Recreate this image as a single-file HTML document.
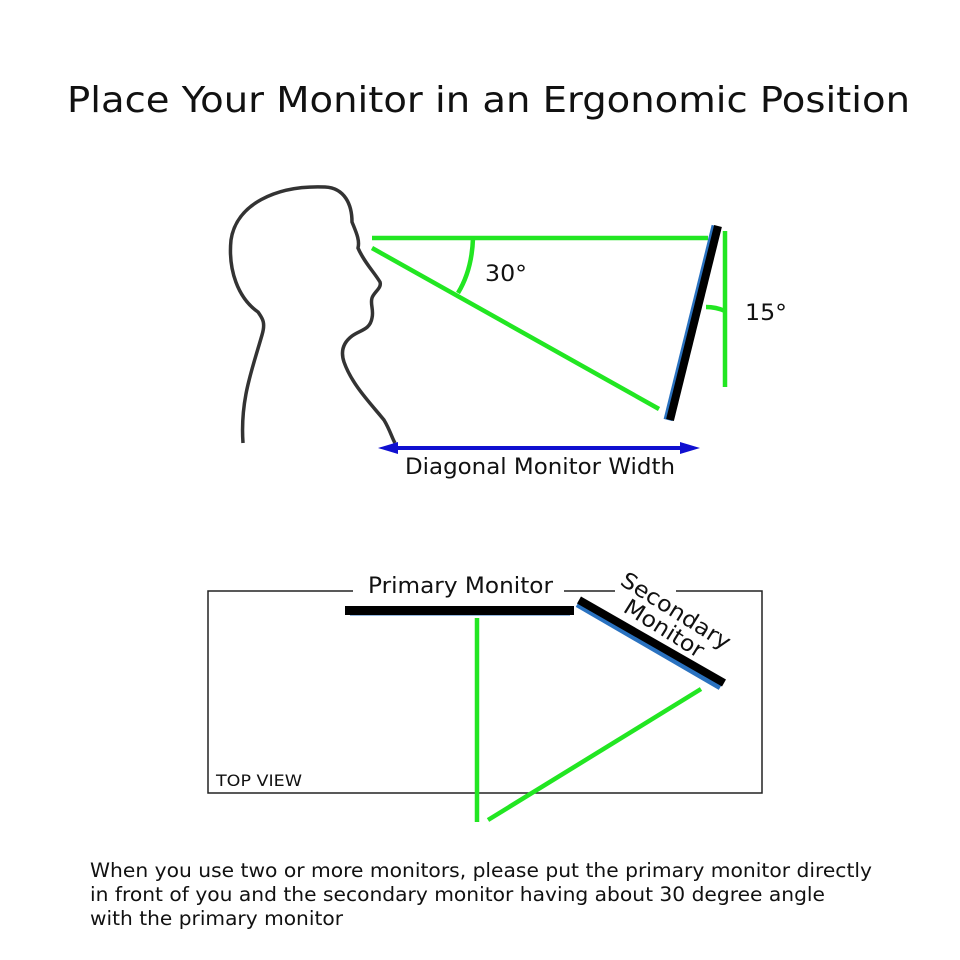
<!DOCTYPE html>
<html><head><meta charset="utf-8"><style>
html,body{margin:0;padding:0;background:#fff}
svg{display:block}
text{font-family:"DejaVu Sans","Liberation Sans",sans-serif;fill:#111}
</style></head><body>
<svg width="960" height="960" viewBox="0 0 960 960" xmlns="http://www.w3.org/2000/svg">
<text x="67" y="112" font-size="36" textLength="843" lengthAdjust="spacingAndGlyphs">Place Your Monitor in an Ergonomic Position</text>
<!-- head -->
<path d="M243,443 C240,400 252,370 262,335 C266,322 262,318 258,312 C238,298 228,270 231,240 C236,205 275,185 325,187 C345,188 352,205 352,222 C356,232 360,240 358,248 C364,262 374,272 380,282 C382,288 374,292 372,298 C370,304 374,310 372,318 C370,330 360,330 352,336 C344,342 340,350 344,362 C352,385 372,405 384,420 C390,430 392,438 395,443" fill="none" stroke="#333" stroke-width="3.5"/>
<g stroke="#22e622" stroke-width="4.5" fill="none">
<line x1="372" y1="238" x2="708" y2="238"/>
<line x1="372" y1="248" x2="659" y2="409"/>
<path d="M473,238 Q472,270 458,293"/>
<line x1="725" y1="231" x2="725" y2="387"/>
<path d="M706,307 Q716,307 725,311"/>
</g>
<line x1="668" y1="420" x2="716" y2="226" stroke="#2a72c0" stroke-width="9"/>
<line x1="670" y1="420" x2="718" y2="226" stroke="#000" stroke-width="8"/>
<text x="485" y="281" font-size="22" textLength="42" lengthAdjust="spacingAndGlyphs">30°</text>
<text x="745" y="320" font-size="22" textLength="42" lengthAdjust="spacingAndGlyphs">15°</text>
<line x1="395" y1="448" x2="685" y2="448" stroke="#1010d0" stroke-width="4"/>
<polygon points="378,448 398,442 398,454" fill="#1010d0"/>
<polygon points="700,448 680,442 680,454" fill="#1010d0"/>
<text x="405" y="474" font-size="22" textLength="270" lengthAdjust="spacingAndGlyphs">Diagonal Monitor Width</text>
<g stroke="#222" stroke-width="1.5" fill="none">
<polyline points="353,591 208,591 208,793 762,793 762,591 676,591"/>
<line x1="564" y1="591" x2="615" y2="591"/>
</g>
<text x="368" y="593" font-size="22" textLength="185" lengthAdjust="spacingAndGlyphs">Primary Monitor</text>
<line x1="350" y1="614" x2="570" y2="614" stroke="#2a72c0" stroke-width="3"/>
<rect x="345" y="606" width="229" height="9" fill="#000"/>
<line x1="578" y1="603" x2="721" y2="686" stroke="#2a72c0" stroke-width="9"/>
<line x1="579" y1="600" x2="724" y2="683" stroke="#000" stroke-width="8"/>
<g stroke="#22e622" stroke-width="4.5">
<line x1="477" y1="618" x2="477" y2="822"/>
<line x1="488" y1="820" x2="701" y2="689"/>
</g>
<text transform="translate(619,584) rotate(32)" font-size="22" textLength="125" lengthAdjust="spacingAndGlyphs">Secondary</text>
<text transform="translate(622,611) rotate(32)" font-size="22" textLength="90" lengthAdjust="spacingAndGlyphs">Monitor</text>
<text x="216" y="786" font-size="16" textLength="86" lengthAdjust="spacingAndGlyphs">TOP VIEW</text>
<text x="90" y="877" font-size="19.5" textLength="782" lengthAdjust="spacingAndGlyphs">When you use two or more monitors, please put the primary monitor directly</text>
<text x="90" y="901" font-size="19.5" textLength="735" lengthAdjust="spacingAndGlyphs">in front of you and the secondary monitor having about 30 degree angle</text>
<text x="90" y="925" font-size="19.5" textLength="253" lengthAdjust="spacingAndGlyphs">with the primary monitor</text>
</svg>
</body></html>
